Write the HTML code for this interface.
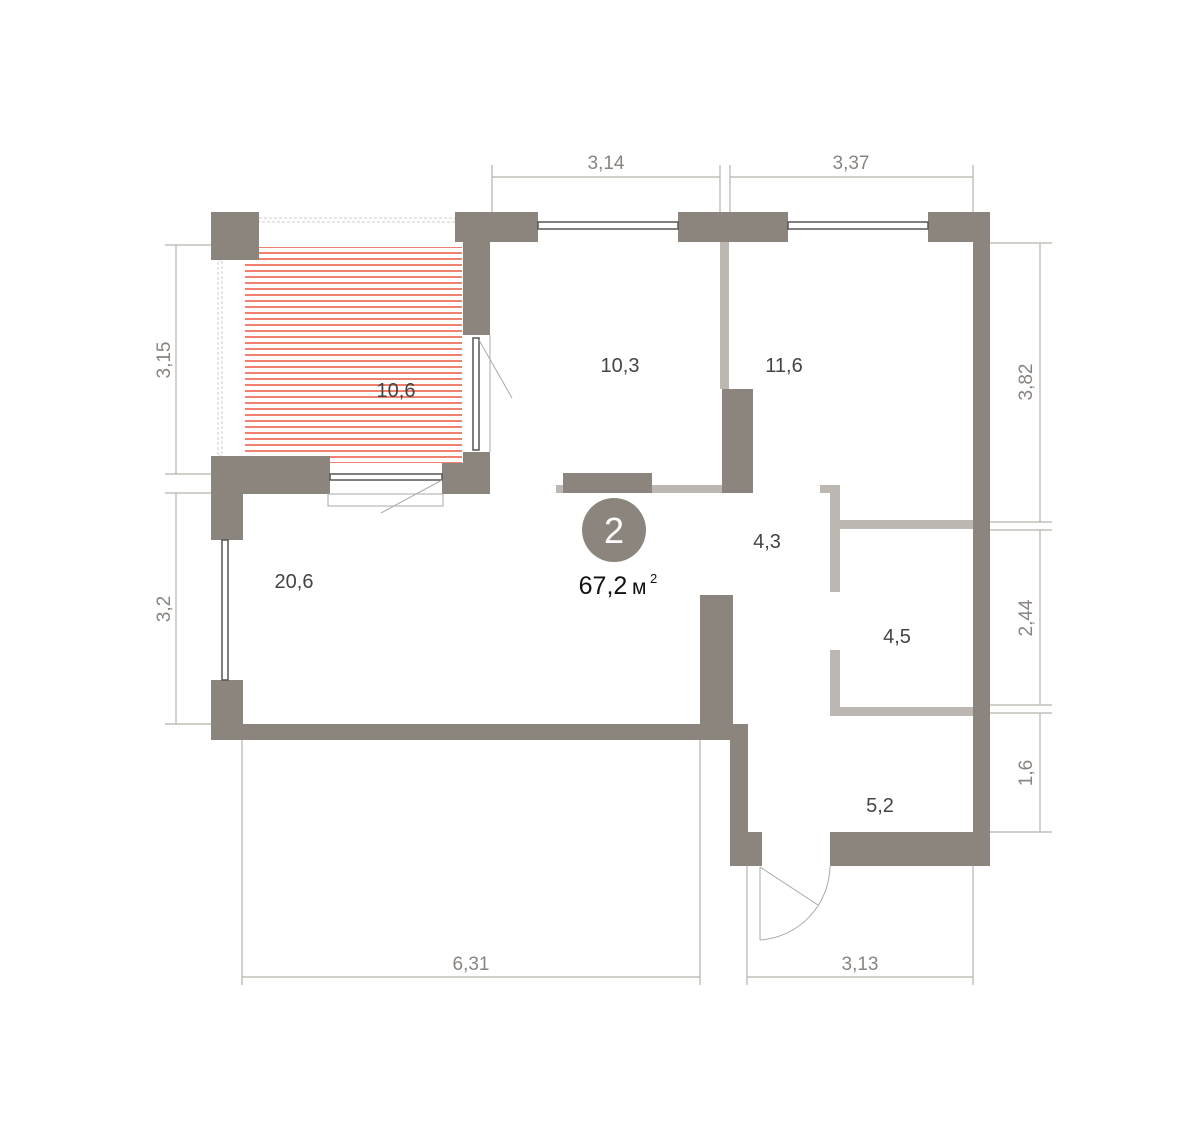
<!DOCTYPE html>
<html><head><meta charset="utf-8"><style>
body{margin:0;background:#fff}
svg text{font-family:"Liberation Sans",sans-serif}
</style></head><body>
<svg width="1200" height="1137" viewBox="0 0 1200 1137" xmlns="http://www.w3.org/2000/svg">
<defs>
<pattern id="h" width="10" height="6" patternUnits="userSpaceOnUse">
<rect width="10" height="6" fill="#fff"/><rect y="0" width="10" height="2" fill="#f08070"/>
</pattern>
</defs>
<!-- dimension lines -->
<g stroke="#b8b2ac" stroke-width="1.2" fill="none">
<line x1="492" y1="165" x2="492" y2="212"/><line x1="720" y1="165" x2="720" y2="212"/>
<line x1="730" y1="165" x2="730" y2="212"/><line x1="973" y1="165" x2="973" y2="212"/>
<line x1="492" y1="177" x2="720" y2="177"/><line x1="730" y1="177" x2="973" y2="177"/>
<line x1="165" y1="245" x2="211" y2="245"/><line x1="165" y1="474" x2="211" y2="474"/>
<line x1="165" y1="493" x2="211" y2="493"/><line x1="165" y1="724" x2="211" y2="724"/>
<line x1="176" y1="245" x2="176" y2="474"/><line x1="176" y1="493" x2="176" y2="724"/>
<line x1="990" y1="243" x2="1052" y2="243"/><line x1="990" y1="522" x2="1052" y2="522"/>
<line x1="990" y1="530" x2="1052" y2="530"/><line x1="990" y1="705" x2="1052" y2="705"/>
<line x1="990" y1="713" x2="1052" y2="713"/><line x1="990" y1="832" x2="1052" y2="832"/>
<line x1="1040" y1="243" x2="1040" y2="522"/><line x1="1040" y1="530" x2="1040" y2="705"/>
<line x1="1040" y1="713" x2="1040" y2="832"/>
<line x1="242" y1="740" x2="242" y2="985"/><line x1="700" y1="740" x2="700" y2="985"/>
<line x1="747" y1="866" x2="747" y2="985"/><line x1="973" y1="866" x2="973" y2="985"/>
<line x1="242" y1="977" x2="700" y2="977"/><line x1="747" y1="977" x2="973" y2="977"/>
</g>
<g fill="#8a8480" font-size="19">
<text x="606" y="169" text-anchor="middle">3,14</text>
<text x="851" y="169" text-anchor="middle">3,37</text>
<text x="471" y="970" text-anchor="middle">6,31</text>
<text x="860" y="970" text-anchor="middle">3,13</text>
<text transform="translate(170,360) rotate(-90)" text-anchor="middle">3,15</text>
<text transform="translate(170,609) rotate(-90)" text-anchor="middle">3,2</text>
<text transform="translate(1032,382) rotate(-90)" text-anchor="middle">3,82</text>
<text transform="translate(1032,618) rotate(-90)" text-anchor="middle">2,44</text>
<text transform="translate(1032,773) rotate(-90)" text-anchor="middle">1,6</text>
</g>
<!-- balcony -->
<rect x="245" y="247" width="217" height="216" fill="url(#h)"/>
<rect x="259" y="218" width="196" height="4" fill="none" stroke="#ccc" stroke-dasharray="3,2"/>
<rect x="218" y="260" width="4" height="196" fill="none" stroke="#ccc" stroke-dasharray="3,2"/>
<!-- light partitions -->
<g fill="#bdb7b1">
<rect x="720" y="242" width="9" height="147"/>
<rect x="556" y="485" width="166" height="8"/>
<rect x="820" y="485" width="20" height="8"/>
<rect x="830" y="485" width="10" height="107"/>
<rect x="840" y="520" width="133" height="9"/>
<rect x="830" y="650" width="10" height="66"/>
<rect x="830" y="707" width="143" height="9"/>
</g>
<!-- walls -->
<g fill="#8c857d">
<rect x="211" y="212" width="48" height="48"/>
<rect x="455" y="212" width="83" height="30"/>
<rect x="463" y="212" width="27" height="123"/>
<rect x="678" y="212" width="110" height="30"/>
<rect x="928" y="212" width="62" height="30"/>
<rect x="973" y="212" width="17" height="654"/>
<rect x="463" y="452" width="27" height="42"/>
<rect x="442" y="463" width="48" height="31"/>
<rect x="211" y="456" width="119" height="38"/>
<rect x="211" y="456" width="32" height="84"/>
<rect x="211" y="680" width="32" height="60"/>
<rect x="211" y="724" width="534" height="16"/>
<rect x="700" y="595" width="33" height="145"/>
<rect x="730" y="724" width="18" height="142"/>
<rect x="730" y="832" width="32" height="34"/>
<rect x="830" y="832" width="160" height="34"/>
<rect x="722" y="389" width="31" height="104"/>
<rect x="563" y="473" width="89" height="20"/>
</g>
<!-- windows -->
<g fill="#fff" stroke="#555" stroke-width="1.5">
<rect x="538" y="222" width="140" height="7"/>
<rect x="788" y="222" width="140" height="7"/>
<rect x="473" y="338" width="6" height="112"/>
<rect x="330" y="474" width="112" height="6"/>
<rect x="222" y="540" width="6" height="140"/>
</g>
<g stroke="#aaa" stroke-width="1" fill="none">
<rect x="328" y="494" width="115" height="12"/>
<line x1="442" y1="480" x2="381" y2="513"/>
<line x1="479" y1="340" x2="512" y2="398"/>
<line x1="490" y1="335" x2="490" y2="452"/>
<line x1="760" y1="867" x2="760" y2="940"/>
<line x1="760" y1="867" x2="818" y2="905"/>
<path d="M760 940 A75 75 0 0 0 830 866"/>
</g>
<!-- labels -->
<g fill="#444" font-size="20" text-anchor="middle">
<text x="396" y="397">10,6</text>
<text x="620" y="372">10,3</text>
<text x="784" y="372">11,6</text>
<text x="294" y="588">20,6</text>
<text x="767" y="548">4,3</text>
<text x="897" y="643">4,5</text>
<text x="880" y="812">5,2</text>
</g>
<circle cx="614" cy="530" r="32" fill="#8c857d"/>
<text x="614" y="543" fill="#fff" font-size="36" text-anchor="middle">2</text>
<text x="603" y="594" fill="#111" font-size="25" text-anchor="middle">67,2</text>
<text x="632" y="594" fill="#111" font-size="21">м</text>
<text x="650" y="583" fill="#111" font-size="13">2</text>
</svg>
</body></html>
